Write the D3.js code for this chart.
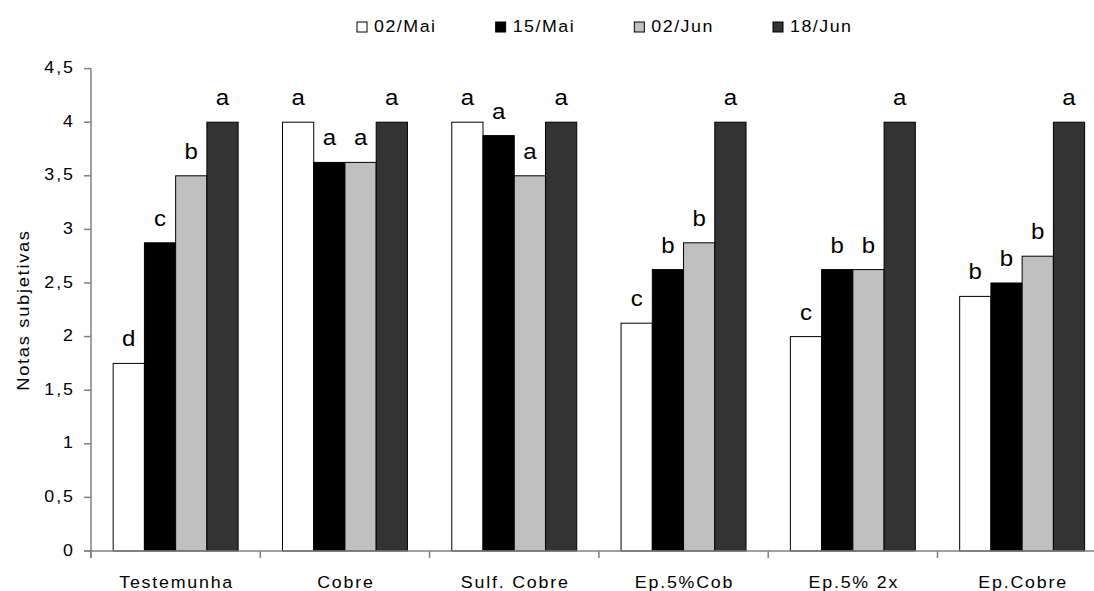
<!DOCTYPE html>
<html>
<head>
<meta charset="utf-8">
<script src="https://cdn.jsdelivr.net/npm/d3@7"></script>
<style>
  html, body { margin: 0; padding: 0; background: #fff; }
  svg { display: block; }
  text { font-family: "Liberation Sans", Arial, sans-serif; fill: #000; }
</style>
</head>
<body>
<svg id="chart" width="1094" height="591"></svg>
<script>
// ---- data ----
const categories = ["Testemunha", "Cobre", "Sulf. Cobre", "Ep.5%Cob", "Ep.5% 2x", "Ep.Cobre"];
const seriesNames = ["02/Mai", "15/Mai", "02/Jun", "18/Jun"];
const s02Mai = [1.75, 4, 4, 2.125, 2, 2.375];
const s15Mai = [2.875, 3.625, 3.875, 2.625, 2.625, 2.5];
const s02Jun = [3.5, 3.625, 3.5, 2.875, 2.625, 2.75];
const s18Jun = [4, 4, 4, 4, 4, 4];
const lettersMai02 = ["d", "a", "a", "c", "c", "b"];
const lettersMai15 = ["c", "a", "a", "b", "b", "b"];
const lettersJun02 = ["b", "a", "a", "b", "b", "b"];
const lettersJun18 = ["a", "a", "a", "a", "a", "a"];
const yTicks = [0, 0.5, 1, 1.5, 2, 2.5, 3, 3.5, 4, 4.5];
const yTickLabels = ["0", "0,5", "1", "1,5", "2", "2,5", "3", "3,5", "4", "4,5"];
const yTitle = "Notas subjetivas";

// ---- styles ----
const fills = ["#ffffff", "#000000", "#c0c0c0", "#333333"];
const SX = 1.08;          // slight horizontal stretch of the glyphs
const LS = 1.8;           // letter spacing (before stretch)
const FS = 16.5;
const axisColor = "#808080";

const values = [s02Mai, s15Mai, s02Jun, s18Jun];
const letters = [lettersMai02, lettersMai15, lettersJun02, lettersJun18];

const svg = d3.select("#chart");

const left = 91, bandW = 169.3;
const x0 = d3.scaleBand().domain(categories).range([left, left + bandW * categories.length]).padding(0);
const groupW = x0.bandwidth() * 0.738;
const x1 = d3.scaleBand().domain(seriesNames)
  .range([(x0.bandwidth() - groupW) / 2, (x0.bandwidth() + groupW) / 2]).padding(0);
const y = d3.scaleLinear().domain([0, 4.5]).range([551, 68.6]);

// bars
const data = [];
categories.forEach((c, ci) => {
  seriesNames.forEach((s, si) => {
    data.push({ c, s, si, v: values[si][ci], l: letters[si][ci] });
  });
});

svg.append("g").selectAll("rect").data(data).join("rect")
  .attr("x", d => x0(d.c) + x1(d.s))
  .attr("y", d => y(d.v))
  .attr("width", x1.bandwidth())
  .attr("height", d => y(0) - y(d.v))
  .attr("fill", d => fills[d.si])
  .attr("stroke", "#000")
  .attr("stroke-width", 1);

// significance letters
svg.append("g").selectAll("text").data(data).join("text")
  .attr("transform", d => `translate(${x0(d.c) + x1(d.s) + x1.bandwidth() / 2},${y(d.v) - 17}) scale(1.12,1)`)
  .attr("text-anchor", "middle")
  .attr("font-size", 21.5)
  .text(d => d.l);

// y axis
const gy = svg.append("g");
gy.append("line").attr("x1", left).attr("x2", left).attr("y1", y(4.5)).attr("y2", y(0) + 7)
  .attr("stroke", axisColor).attr("stroke-width", 1.5);
gy.selectAll("line.tick").data(yTicks).join("line").attr("class", "tick")
  .attr("x1", left - 7).attr("x2", left).attr("y1", d => y(d)).attr("y2", d => y(d))
  .attr("stroke", axisColor).attr("stroke-width", 1.5);
gy.selectAll("text").data(yTicks).join("text")
  .attr("transform", d => `translate(${73 + LS * SX},${y(d) + 4.5}) scale(${SX},1)`)
  .attr("text-anchor", "end")
  .attr("letter-spacing", LS)
  .attr("font-size", FS)
  .text((d, i) => yTickLabels[i]);

// x axis
const gx = svg.append("g");
gx.append("line").attr("x1", left - 7).attr("x2", 1094).attr("y1", y(0)).attr("y2", y(0))
  .attr("stroke", axisColor).attr("stroke-width", 1.5);
const bounds = categories.map(c => x0(c)).concat([x0.range()[1]]);
gx.selectAll("line.tick").data(bounds).join("line").attr("class", "tick")
  .attr("x1", d => d).attr("x2", d => d).attr("y1", y(0)).attr("y2", y(0) + 7)
  .attr("stroke", axisColor).attr("stroke-width", 1.5);
gx.selectAll("text").data(categories).join("text")
  .attr("transform", d => `translate(${x0(d) + x0.bandwidth() / 2 + LS * SX / 2},587.5) scale(${SX},1)`)
  .attr("text-anchor", "middle")
  .attr("letter-spacing", LS * 0.92)
  .attr("font-size", FS)
  .text(d => d);

// y title
svg.append("text")
  .attr("transform", `translate(28.5,310) rotate(-90) scale(${SX},1)`)
  .attr("text-anchor", "middle")
  .attr("letter-spacing", 1.55)
  .attr("font-size", 17)
  .text(yTitle);

// legend
const lg = svg.append("g");
const legX = d3.scaleLinear().domain([0, 3]).range([357, 773]);
const items = lg.selectAll("g").data(seriesNames).join("g")
  .attr("transform", (d, i) => `translate(${legX(i)},0)`);
items.append("rect").attr("x", 0).attr("y", 22).attr("width", 10).attr("height", 10)
  .attr("fill", (d, i) => fills[i]).attr("stroke", "#000").attr("stroke-width", 1);
items.append("text")
  .attr("transform", `translate(17,31.5) scale(${SX},1)`)
  .attr("letter-spacing", 1.4)
  .attr("font-size", FS)
  .text(d => d);
</script>
</body>
</html>
